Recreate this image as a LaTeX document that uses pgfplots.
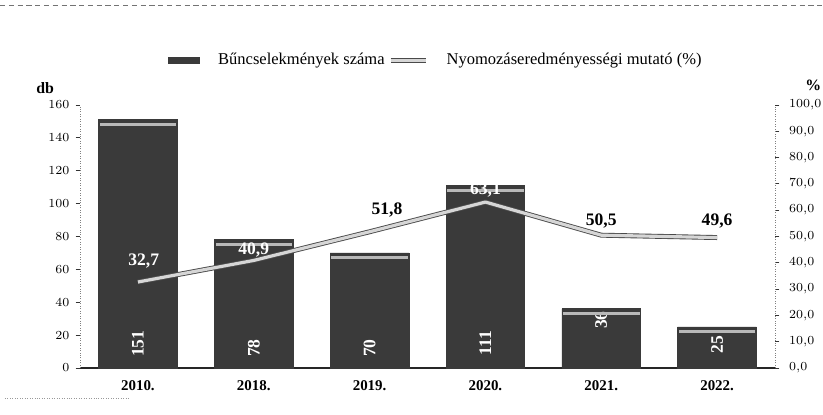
\documentclass[border=0pt]{standalone}
\usepackage{pgfplots}
\pgfplotsset{compat=1.18}
\usepackage{pgfplotstable}
\usepackage{fontspec}
\setmainfont{Liberation Serif}

\definecolor{barfill}{HTML}{3A3A3A}
\definecolor{barstripe}{HTML}{B8B8B8}
\definecolor{linecore}{HTML}{D6D6D6}
\definecolor{lineedge}{HTML}{4A4A4A}

% x = category index, crimes = left axis (db), rate = right axis (%)
\pgfplotstableread{
x crimes rate
0 151 32.7
1 78  40.9
2 70  51.8
3 111 63.1
4 36  50.5
5 25  49.6
}\crimedata

\tikzset{
  barlab/.style={rotate=90, anchor=west, text=white, font=\fontsize{10}{12}\selectfont\bfseries},
  ratelab/.style={font=\fontsize{10}{12}\selectfont\bfseries},
  rateline/.style={lineedge, line width=0.5pt, double=linecore, double distance=1.8pt, line join=round},
}

\begin{document}
\begin{tikzpicture}[font=\fontsize{8}{9}\selectfont]
\useasboundingbox (-1.6,-0.92) rectangle (14.86,7.36);
\draw[black!55, densely dashed, line width=0.4pt] (-1.6,7.26) -- (14.86,7.26);
\draw[black!40, densely dotted, line width=0.4pt] (-1.5,-0.6) -- (1.0,-0.6);

\begin{axis}[
    at={(0,0)}, anchor=south west, scale only axis,
    width=13.9cm, height=5.26cm,
    xmin=-0.5, xmax=5.5, ymin=0, ymax=160,
    axis x line*=bottom, axis y line*=left,
    x axis line style={-, black!85, line width=0.8pt},
    y axis line style={-, black!50, densely dotted},
    xtick={0,...,5},
    xticklabels={2010.,2018.,2019.,2020.,2021.,2022.},
    xtick style={draw=none},
    ytick={0,20,...,160},
    ytick style={black!80, line width=0.5pt},
    tick align=outside, major tick length=2.5pt,
    xticklabel style={font=\fontsize{8.5}{10}\selectfont\bfseries, yshift=-1pt},
    yticklabel style={font=\fontsize{7.5}{9}\selectfont\bfseries},
    clip=false,
]
\addplot[ybar, bar width=0.68, fill=barfill, draw=barfill]
    table[x=x, y=crimes] {\crimedata};
% light stripe just under the top of each bar
\addplot[only marks, mark=-, mark size=0.765cm, barstripe,
    mark options={line width=1.8pt, yshift=-2.6pt}]
    table[x=x, y=crimes] {\crimedata};

\node[barlab] at (axis cs:0,3) {151};
\node[barlab] at (axis cs:1,3) {78};
\node[barlab] at (axis cs:2,3) {70};
\node[barlab] at (axis cs:3,4) {111};
\node[barlab] at (axis cs:4,20) {36};
\node[barlab] at (axis cs:5,5) {25};

\node[font=\fontsize{9}{10}\selectfont\bfseries] at (rel axis cs:-0.05,1.065) {db};
\end{axis}

\begin{axis}[
    at={(0,0)}, anchor=south west, scale only axis,
    width=13.9cm, height=5.26cm,
    xmin=-0.5, xmax=5.5, ymin=0, ymax=100,
    axis x line=none, axis y line*=right,
    y axis line style={-, black!50, densely dotted},
    ytick={0,10,...,100},
    ytick style={black!80, line width=0.5pt},
    tick align=outside, major tick length=2.5pt,
    yticklabel style={/pgf/number format/.cd, fixed, fixed zerofill, precision=1, use comma,
        /tikz/.cd, font=\fontsize{7.5}{9}\selectfont\bfseries, xshift=2pt},
    legend columns=2,
    legend style={at={(0.513,1.17)}, anchor=center, draw=none, fill=none,
        font=\fontsize{9.4}{11}\selectfont,
        /tikz/every odd column/.append style={column sep=0.3cm}},
    clip=false,
]
\addlegendimage{legend image code/.code={\fill[barfill] (0cm,-0.06cm) rectangle (0.62cm,0.06cm);}}
\addlegendentry{Bűncselekmények száma}

\addplot[rateline,
    legend image code/.code={\draw[rateline] (0cm,0cm) -- (0.7cm,0cm);}]
    table[x=x, y=rate] {\crimedata};
\addlegendentry{Nyomozáseredményességi mutató (\%)}

\node[ratelab, text=white] at (axis cs:0.05,40.5) {32,7};
\node[ratelab, text=white] at (axis cs:1,45) {40,9};
\node[ratelab] at (axis cs:2.15,60) {51,8};
\node[ratelab, text=white] at (axis cs:3,67.5) {63,1};
\node[ratelab] at (axis cs:4,56) {50,5};
\node[ratelab] at (axis cs:5,56) {49,6};

\node[font=\fontsize{9}{10}\selectfont\bfseries] at (rel axis cs:1.055,1.075) {\%};
\end{axis}
\end{tikzpicture}
\end{document}
